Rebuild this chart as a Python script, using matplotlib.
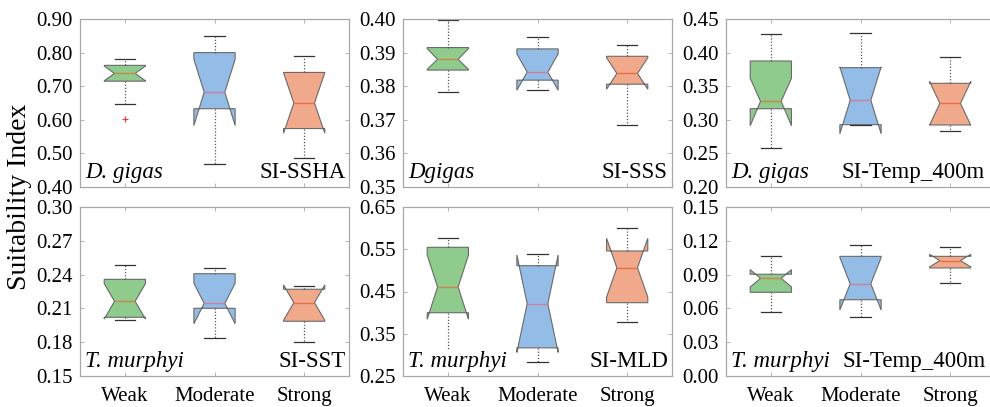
import matplotlib
matplotlib.use("Agg")
import matplotlib.pyplot as plt
from matplotlib.ticker import FormatStrFormatter

plt.rcParams["font.family"] = ["Liberation Serif", "DejaVu Serif"]

categories = ["Weak", "Moderate", "Strong"]

# Box statistics per panel (Weak, Moderate, Strong)
ssha = dict(whislo=[0.648, 0.469, 0.485], q1=[0.715, 0.633, 0.574],
            med=[0.738, 0.682, 0.650], q3=[0.762, 0.800, 0.741],
            whishi=[0.782, 0.850, 0.791], cilo=[0.716, 0.583, 0.560],
            cihi=[0.760, 0.780, 0.740])
ssha_outliers = [[0.601], [], []]

sss = dict(whislo=[0.3784, 0.3788, 0.3685], q1=[0.3848, 0.3818, 0.3806],
           med=[0.3880, 0.3842, 0.3838], q3=[0.3915, 0.3911, 0.3889],
           whishi=[0.3998, 0.3946, 0.3922], cilo=[0.3850, 0.3788, 0.3791],
           cihi=[0.3912, 0.3896, 0.3885])

temp_dg = dict(whislo=[0.2585, 0.2925, 0.2838], q1=[0.3165, 0.2928, 0.2923],
               med=[0.3275, 0.3290, 0.3245], q3=[0.3875, 0.3776, 0.3543],
               whishi=[0.4270, 0.4287, 0.3940], cilo=[0.2912, 0.2793, 0.2920],
               cihi=[0.3618, 0.3787, 0.3570])

sst = dict(whislo=[0.1997, 0.1834, 0.1803], q1=[0.2021, 0.2101, 0.1986],
           med=[0.2163, 0.2145, 0.2151], q3=[0.2358, 0.2408, 0.2270],
           whishi=[0.2482, 0.2459, 0.2299], cilo=[0.2005, 0.1964, 0.1994],
           cihi=[0.2320, 0.2323, 0.2308])

mld = dict(whislo=[0.2850, 0.2839, 0.3785], q1=[0.3998, 0.3166, 0.4235],
           med=[0.4607, 0.4211, 0.5063], q3=[0.5546, 0.5111, 0.5459],
           whishi=[0.5766, 0.5395, 0.5996], cilo=[0.3842, 0.3058, 0.4367],
           cihi=[0.5364, 0.5364, 0.5759])

temp_tm = dict(whislo=[0.0565, 0.0524, 0.0823], q1=[0.0743, 0.0677, 0.0959],
               med=[0.0867, 0.0819, 0.1024], q3=[0.0903, 0.1062, 0.1062],
               whishi=[0.1065, 0.1166, 0.1148], cilo=[0.0790, 0.0586, 0.0968],
               cihi=[0.0944, 0.1052, 0.1080])

panels = [
    (ssha, ssha_outliers, "D. gigas", "SI-SSHA", (0.40, 0.90), 0.10),
    (sss, None, "Dgigas", "SI-SSS", (0.35, 0.40), 0.01),
    (temp_dg, None, "D. gigas", "SI-Temp_400m", (0.20, 0.45), 0.05),
    (sst, None, "T. murphyi", "SI-SST", (0.15, 0.30), 0.03),
    (mld, None, "T. murphyi", "SI-MLD", (0.25, 0.65), 0.10),
    (temp_tm, None, "T. murphyi", "SI-Temp_400m", (0.00, 0.15), 0.03),
]
# right edge of the variable label, in axes fraction
var_x = [0.989, 0.981, 0.963, 0.989, 0.985, 0.966]

fills = ["#8fcb8c", "#93bce6", "#f1a98b"]
median_colors = ["#c9884a", "#cf7f9a", "#ec6a45"]
edge = "#6a6a6a"
spine_gray = "#a8a8a8"

W, H = 990, 407
fig = plt.figure(figsize=(W / 100, H / 100), dpi=100)
lefts = [80, 403, 726]
col_w = 269
rows = [(19, 187), (207, 376)]

for i, (st, outl, species, var, ylim, step) in enumerate(panels):
    r, c = divmod(i, 3)
    top, bot = rows[r]
    ax = fig.add_axes([lefts[c] / W, 1 - bot / H, col_w / W, (bot - top) / H])
    stats = []
    for k in range(3):
        d = {key: st[key][k] for key in st}
        d["fliers"] = outl[k] if outl else []
        stats.append(d)
    bp = ax.bxp(stats, positions=[1, 2, 3], widths=0.46, shownotches=True,
                patch_artist=True,
                boxprops=dict(edgecolor=edge, linewidth=0.8),
                whiskerprops=dict(color="#555555", linestyle=(0, (1, 1.5)), linewidth=0.9),
                capprops=dict(color="#333333", linewidth=0.9),
                medianprops=dict(linewidth=1.0),
                flierprops=dict(marker="+", markeredgecolor="#ff3030",
                                markersize=5, markeredgewidth=0.8))
    for k in range(3):
        bp["boxes"][k].set_facecolor(fills[k])
        bp["medians"][k].set_color(median_colors[k])

    ax.set_xlim(0.5, 3.5)
    ax.set_ylim(*ylim)
    n = int(round((ylim[1] - ylim[0]) / step))
    ax.set_yticks([ylim[0] + j * step for j in range(n + 1)])
    ax.yaxis.set_major_formatter(FormatStrFormatter("%.2f"))
    ax.set_xticks([1, 2, 3])
    if r == 1:
        ax.set_xticklabels(categories)
    else:
        ax.set_xticklabels([])
    ax.tick_params(direction="in", length=3, width=0.6, color=spine_gray,
                   top=True, right=True, labelsize=15, pad=5)
    ax.tick_params(axis="x", pad=8)
    for s in ax.spines.values():
        s.set_color(spine_gray)
        s.set_linewidth(0.9)

    ax.text(0.02, 0.025, species, transform=ax.transAxes, fontsize=16.5,
            style="italic", ha="left", va="bottom", zorder=5,
            bbox=dict(facecolor="white", edgecolor="none", pad=0.5))
    ax.text(var_x[i], 0.025, var, transform=ax.transAxes, fontsize=16.5,
            ha="right", va="bottom", zorder=5)

fig.text(0.02, 1 - 197 / H, "Suitability Index", rotation=90, fontsize=20,
         ha="center", va="center")

fig.savefig("out.png", dpi=100)
